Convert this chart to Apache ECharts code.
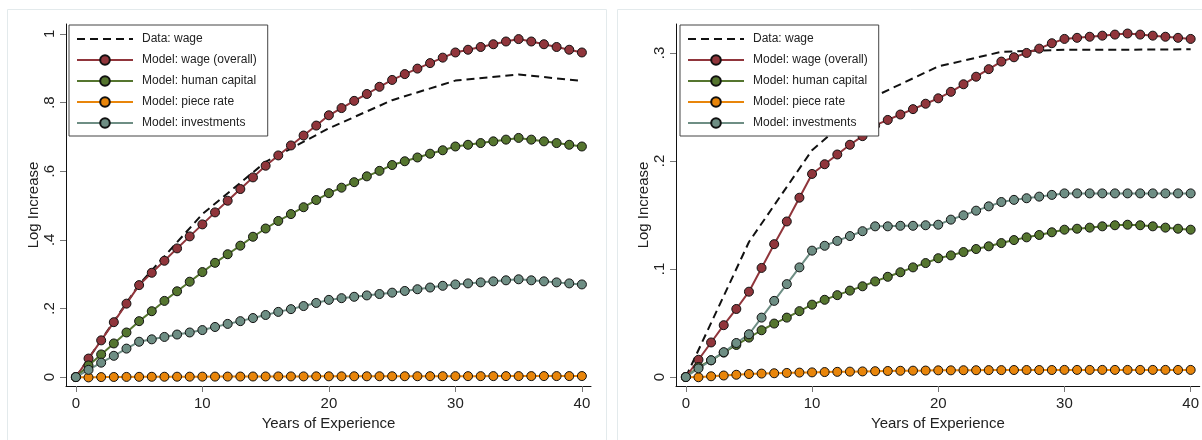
<!DOCTYPE html>
<html>
<head>
<meta charset="utf-8">
<script src="https://cdn.jsdelivr.net/npm/echarts@6/dist/echarts.min.js"></script>
<style>
html,body{margin:0;padding:0;background:#fff;}
#chart{width:1202px;height:440px;}
</style>
</head>
<body>
<div id="chart"></div>
<script>
// ---------- data ----------
const years = [0,1,2,3,4,5,6,7,8,9,10,11,12,13,14,15,16,17,18,19,20,21,22,23,24,25,26,27,28,29,30,31,32,33,34,35,36,37,38,39,40];
const dataYears = [0,5,10,15,20,25,30,35,40];
const seriesNames = ['Data: wage','Model: wage (overall)','Model: human capital','Model: piece rate','Model: investments'];

const leftData  = [0,0.27,0.475,0.627,0.725,0.807,0.864,0.882,0.863];
const leftWage  = [0,0.054,0.107,0.16,0.214,0.268,0.304,0.339,0.375,0.41,0.445,0.48,0.514,0.548,0.582,0.616,0.646,0.675,0.704,0.733,0.763,0.784,0.805,0.825,0.846,0.866,0.883,0.899,0.915,0.931,0.946,0.954,0.962,0.970,0.978,0.985,0.978,0.970,0.962,0.954,0.946];
const leftHC    = [0,0.034,0.066,0.098,0.13,0.163,0.192,0.222,0.25,0.278,0.306,0.333,0.358,0.383,0.409,0.433,0.455,0.475,0.495,0.516,0.536,0.552,0.568,0.585,0.601,0.618,0.629,0.64,0.651,0.661,0.672,0.677,0.682,0.687,0.692,0.697,0.692,0.687,0.682,0.677,0.672];
const leftPiece = [0,-0.001,0,0.0003,0.0005,0.0007,0.0009,0.001,0.0011,0.0012,0.0013,0.0014,0.0015,0.0016,0.0017,0.0018,0.0019,0.002,0.002,0.0021,0.0022,0.0022,0.0023,0.0023,0.0024,0.0024,0.0025,0.0025,0.0026,0.0026,0.0027,0.0027,0.0027,0.0028,0.0028,0.0028,0.0028,0.0029,0.0029,0.0029,0.003];
const leftInv   = [0,0.021,0.042,0.062,0.083,0.103,0.11,0.117,0.124,0.13,0.137,0.146,0.155,0.163,0.172,0.181,0.19,0.198,0.207,0.216,0.225,0.23,0.234,0.238,0.242,0.246,0.251,0.256,0.261,0.266,0.27,0.273,0.276,0.279,0.282,0.285,0.282,0.279,0.276,0.273,0.27];

const rightData  = [0,0.125,0.21,0.26,0.2875,0.301,0.303,0.303,0.3034];
const rightWage  = [0,0.016,0.032,0.048,0.063,0.079,0.101,0.123,0.144,0.166,0.188,0.197,0.206,0.215,0.223,0.233,0.238,0.243,0.248,0.253,0.258,0.264,0.271,0.278,0.285,0.292,0.296,0.300,0.304,0.309,0.313,0.314,0.315,0.316,0.317,0.318,0.317,0.316,0.315,0.314,0.313];
const rightHC    = [0,0.0093,0.0155,0.0226,0.0297,0.0365,0.0433,0.0495,0.055,0.061,0.067,0.0715,0.0758,0.080,0.084,0.0885,0.0928,0.097,0.1015,0.1055,0.110,0.1126,0.1157,0.1185,0.121,0.124,0.1268,0.1293,0.1315,0.134,0.1364,0.1373,0.1383,0.1395,0.1405,0.141,0.1405,0.1395,0.1383,0.1373,0.1364];
const rightPiece = [0,-0.0002,0.0007,0.0014,0.0021,0.0028,0.0032,0.0035,0.0038,0.0041,0.0043,0.0046,0.0048,0.005,0.0052,0.0054,0.0056,0.0058,0.0059,0.006,0.0062,0.0062,0.0063,0.0063,0.0064,0.0064,0.0065,0.0065,0.0065,0.0065,0.0066,0.0066,0.0066,0.0066,0.0066,0.0066,0.0066,0.0066,0.0066,0.0066,0.0066];
const rightInv   = [0,0.008,0.0155,0.023,0.0315,0.0396,0.055,0.0705,0.086,0.1015,0.117,0.1215,0.126,0.1305,0.135,0.1395,0.1395,0.14,0.14,0.1405,0.141,0.1457,0.1497,0.154,0.158,0.162,0.164,0.1655,0.167,0.1686,0.170,0.170,0.170,0.170,0.170,0.170,0.170,0.170,0.170,0.170,0.170];

const xTicks = [0,10,20,30,40];
const leftYTicks = [0,0.2,0.4,0.6,0.8,1];
const rightYTicks = [0,0.1,0.2,0.3];

// ---------- styles ----------
const FONT = 'Liberation Sans, Arial, sans-serif';
const colors = {wage:'#90353B', hc:'#55752F', piece:'#E8850A', inv:'#6E8E84'};

function pairs(xs, ys){ return xs.map((x,i)=>[x, ys[i]]); }
function fmt(v){ if (v === 0) return '0'; if (v === 1) return '1'; return String(v).replace(/^0/, ''); }

function xAxisFor(gi){
  return {
    type:'value', gridIndex:gi, min:-0.78, max:40.72,
    axisLine:{show:true, onZero:false, lineStyle:{color:'#111', width:1}},
    axisTick:{show:true, length:6, customValues:xTicks, lineStyle:{color:'#777'}},
    axisLabel:{customValues:xTicks, fontSize:15, fontFamily:FONT, color:'#222', margin:10},
    splitLine:{show:false},
    name:'Years of Experience', nameLocation:'middle', nameGap:23,
    nameTextStyle:{fontSize:15, fontFamily:FONT, color:'#222'}
  };
}
function yAxisFor(gi, min, max, ticks){
  return {
    type:'value', gridIndex:gi, min:min, max:max,
    axisLine:{show:true, onZero:false, lineStyle:{color:'#111', width:1}},
    axisTick:{show:true, length:6, customValues:ticks, lineStyle:{color:'#777'}},
    axisLabel:{customValues:ticks, rotate:90, fontSize:15, fontFamily:FONT, color:'#222', margin:9, formatter:fmt},
    splitLine:{show:false},
    name:'Log Increase', nameLocation:'middle', nameGap:24,
    nameTextStyle:{fontSize:15, fontFamily:FONT, color:'#222'}
  };
}
function modelSeries(name, gi, ys, color){
  return {
    name:name, type:'line', xAxisIndex:gi, yAxisIndex:gi,
    data:pairs(years, ys), symbol:'circle', symbolSize:9, showSymbol:true, showAllSymbol:true,
    lineStyle:{color:color, width:2},
    itemStyle:{color:color, borderColor:'#111', borderWidth:1},
    emphasis:{disabled:true}
  };
}
function dataSeries(gi, ys){
  return {
    name:seriesNames[0], type:'line', xAxisIndex:gi, yAxisIndex:gi,
    data:pairs(dataYears, ys), symbol:'none',
    lineStyle:{color:'#111', width:2, type:[8,5]},
    itemStyle:{color:'#111', opacity:0},
    emphasis:{disabled:true}
  };
}
function legendFor(left){
  return {
    orient:'vertical', left:left, top:25,
    data:[
      {name:seriesNames[0], itemStyle:{opacity:0}},
      seriesNames[1], seriesNames[2], seriesNames[3], seriesNames[4]
    ],
    itemWidth:56, itemHeight:12, itemGap:9,
    padding:[8,11,7,7],
    borderColor:'#444', borderWidth:1, backgroundColor:'#fff',
    textStyle:{fontSize:12, fontFamily:FONT, color:'#222', padding:[0,0,0,4]},
    selectedMode:false
  };
}

const option = {
  animation:false,
  backgroundColor:'#fff',
  graphic:[
    {type:'rect', shape:{x:7.5, y:9.5, width:599, height:450}, style:{fill:'none', stroke:'#e3eaec', lineWidth:1}, z:-10},
    {type:'rect', shape:{x:617.5, y:9.5, width:600, height:450}, style:{fill:'none', stroke:'#e3eaec', lineWidth:1}, z:-10}
  ],
  grid:[
    {left:66, top:24, width:525, height:362, containLabel:false},
    {left:676, top:24, width:526, height:362, containLabel:false}
  ],
  xAxis:[xAxisFor(0), xAxisFor(1)],
  yAxis:[yAxisFor(0, -0.026, 1.029, leftYTicks), yAxisFor(1, -0.0083, 0.3268, rightYTicks)],
  legend:[legendFor(69), legendFor(680)],
  series:[
    dataSeries(0, leftData),
    modelSeries(seriesNames[1], 0, leftWage, colors.wage),
    modelSeries(seriesNames[2], 0, leftHC, colors.hc),
    modelSeries(seriesNames[3], 0, leftPiece, colors.piece),
    modelSeries(seriesNames[4], 0, leftInv, colors.inv),
    dataSeries(1, rightData),
    modelSeries(seriesNames[1], 1, rightWage, colors.wage),
    modelSeries(seriesNames[2], 1, rightHC, colors.hc),
    modelSeries(seriesNames[3], 1, rightPiece, colors.piece),
    modelSeries(seriesNames[4], 1, rightInv, colors.inv)
  ]
};

const chart = echarts.init(document.getElementById('chart'), null, {renderer:'canvas'});
chart.setOption(option);
</script>
</body>
</html>
